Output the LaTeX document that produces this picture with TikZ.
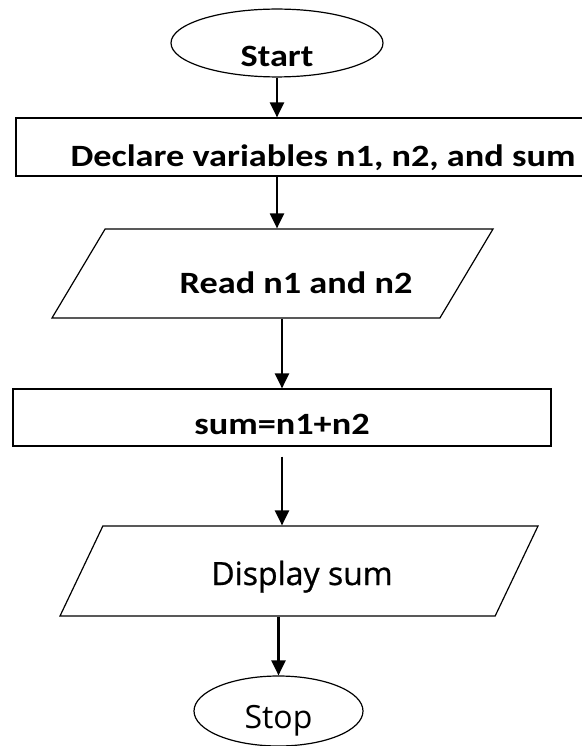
\documentclass[tikz,border=0pt]{standalone}
\usepackage{fontspec}
\setmainfont{Carlito}[FakeStretch=1.17]
\newfontfamily\plainfont{Open Sans}
\newfontfamily\mediumfont{Open Sans}[FakeBold=0.8]
\usetikzlibrary{arrows.meta}
\usetikzlibrary{shapes.geometric}

\tikzset{
  terminal/.style={draw, shape=ellipse, line width=1.2pt, inner sep=0pt},
  process/.style={draw, shape=rectangle, line width=1.2pt, inner sep=2pt},
  inout/.style={draw, shape=trapezium, trapezium stretches body, line width=1.2pt, inner sep=2pt},
  textdrop/.style={text depth=0pt, text height=#1},
  flow/.style={line width=2.2pt, -{Triangle[width=14pt,length=15pt]}}
}

\begin{document}
\begin{tikzpicture}[x=1pt, y=-1pt, font=\bfseries\fontsize{31}{31}\selectfont]
\useasboundingbox (0,0) rectangle (581,746);
\node [terminal, minimum width=212pt, minimum height=67pt, textdrop=48pt] (start) at (277,43) {Start};
\node [process, minimum width=614pt, minimum height=58pt, textdrop=40pt] (declare) at (323,147) {Declare variables n1, n2, and sum};
\node [inout, trapezium left angle=39, trapezium right angle=141, minimum width=441pt, minimum height=89pt, textdrop=39pt] (read) at (272.5,273.5) {\hspace*{47pt}Read n1 and n2};
\node [process, minimum width=538pt, minimum height=57pt, textdrop=34pt] (sum) at (282,417.5) {sum=n1+n2};
\node [inout, trapezium left angle=36.75, trapezium right angle=143.25, minimum width=478pt, minimum height=90pt, textdrop=28pt, font=\mediumfont\fontsize{32}{32}\selectfont] (display) at (299,571) {\hspace*{6pt}Display sum};
\node [terminal, minimum width=169pt, minimum height=70pt, textdrop=35pt, font=\plainfont\fontsize{32}{32}\selectfont] (stop) at (278.5,711) {Stop};

\draw [flow] (start) -- (start |- declare.north);
\draw [flow] (start |- declare.south) -- (start |- read.north);
\draw [flow] (read.south -| sum) -- (sum.north);
\draw [flow] ([yshift=-10pt]sum.south) -- (sum.south |- display.north);
\draw [flow] (display.south -| stop) -- (stop.north);
\end{tikzpicture}
\end{document}
